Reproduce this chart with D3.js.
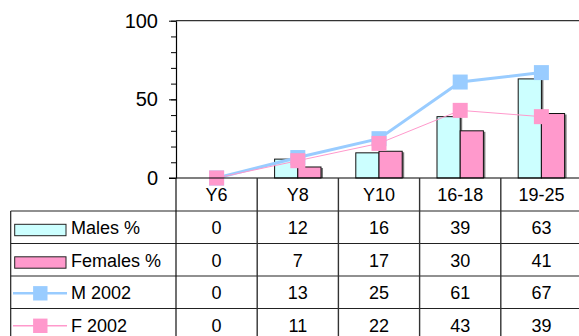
<!DOCTYPE html>
<html>
<head>
<meta charset="utf-8">
<script src="https://cdn.jsdelivr.net/npm/d3@7"></script>
<style>
  html, body { margin: 0; padding: 0; background: #fff; }
  svg { display: block; font-family: "Liberation Sans", Arial, sans-serif; }
</style>
</head>
<body>
<svg id="chart" width="579" height="336"></svg>
<script>
// Age groups and survey percentages
const categories = ["Y6", "Y8", "Y10", "16-18", "19-25"];
const malesPct   = [0, 12, 16, 39, 63];
const femalesPct = [0, 7, 17, 30, 41];
const m2002      = [0, 13, 25, 61, 67];
const f2002      = [0, 11, 22, 43, 39];
const yMajorTicks = [0, 50, 100];
const yMinorTicks = [0, 10, 20, 30, 40, 50, 60, 70, 80, 90, 100];

const seriesRows = [
  { name: "Males %",   values: malesPct,   kind: "bar",  fill: "#CCFFFF" },
  { name: "Females %", values: femalesPct, kind: "bar",  fill: "#FF99CC" },
  { name: "M 2002",    values: m2002,      kind: "line", color: "#99CCFF", width: 3 },
  { name: "F 2002",    values: f2002,      kind: "line", color: "#FF99CC", width: 1 }
];

const svg = d3.select("#chart");

const plotLeft = 176, plotRight = 582, plotTop = 20.7, plotBottom = 178;
const tableLeft = 10.7, headerH = 33, rowH = 32.5;

const x = d3.scaleBand().domain(categories).range([plotLeft, plotRight]);
const bw = x.bandwidth();
const xInner = d3.scaleBand()
  .domain(["Males %", "Females %"])
  .range([0.75 * bw / 3.5, 2.75 * bw / 3.5]);
const y = d3.scaleLinear().domain([0, 100]).range([plotBottom, plotTop]);

// plot frame top edge
svg.append("line")
  .attr("x1", plotLeft).attr("x2", plotRight)
  .attr("y1", plotTop).attr("y2", plotTop)
  .attr("stroke", "#333").attr("stroke-width", 1.2);

// bars with a soft grey drop shadow
const barRows = seriesRows.filter(s => s.kind === "bar");
barRows.forEach(s => {
  const g = svg.append("g");
  const data = categories.map((c, i) => ({ c, v: s.values[i] })).filter(d => d.v > 0);
  g.selectAll("rect.shadow").data(data).join("rect")
    .attr("class", "shadow")
    .attr("x", d => x(d.c) + xInner(s.name) + 2)
    .attr("y", d => y(d.v) + 1)
    .attr("width", xInner.bandwidth())
    .attr("height", d => y(0) - y(d.v) - 1)
    .attr("fill", "#7a7a7a");
  g.selectAll("rect.bar").data(data).join("rect")
    .attr("class", "bar")
    .attr("x", d => x(d.c) + xInner(s.name))
    .attr("y", d => y(d.v))
    .attr("width", xInner.bandwidth())
    .attr("height", d => y(0) - y(d.v))
    .attr("fill", s.fill)
    .attr("stroke", "#111").attr("stroke-width", 1);
});

// lines with square markers
const lineRows = seriesRows.filter(s => s.kind === "line");
const markerSize = 15;
lineRows.forEach(s => {
  const pts = categories.map((c, i) => [x(c) + bw / 2, y(s.values[i])]);
  svg.append("path")
    .attr("d", d3.line()(pts))
    .attr("fill", "none")
    .attr("stroke", s.color)
    .attr("stroke-width", s.width);
  svg.append("g").selectAll("rect").data(pts).join("rect")
    .attr("x", d => d[0] - markerSize / 2)
    .attr("y", d => d[1] - markerSize / 2)
    .attr("width", markerSize).attr("height", markerSize)
    .attr("fill", s.color);
});

// y axis: minor ticks, then major ticks with labels
svg.append("g")
  .attr("transform", `translate(${plotLeft},0)`)
  .call(d3.axisLeft(y).tickValues(yMinorTicks).tickSize(5).tickFormat(""))
  .call(g => g.select(".domain").remove())
  .call(g => g.selectAll("line").attr("stroke", "#000"));
svg.append("g")
  .attr("transform", `translate(${plotLeft},0)`)
  .call(d3.axisLeft(y).tickValues(yMajorTicks).tickSize(7).tickPadding(11).tickSizeOuter(0))
  .call(g => g.select(".domain").attr("stroke", "#000").attr("stroke-width", 1.2))
  .call(g => g.selectAll("line").attr("stroke", "#000"))
  .call(g => g.selectAll("text")
    .attr("font-size", 20)
    .attr("font-family", "Liberation Sans, Arial, sans-serif")
    .attr("fill", "#000"));

// data table below the plot
const table = svg.append("g");
const rowTop = i => plotBottom + headerH + i * rowH;
const tableBottom = rowTop(seriesRows.length);

// horizontal rules
table.append("line")
  .attr("x1", plotLeft - 7).attr("x2", plotRight)
  .attr("y1", plotBottom).attr("y2", plotBottom)
  .attr("stroke", "#000").attr("stroke-width", 1.2);
d3.range(seriesRows.length + 1).forEach(i => {
  table.append("line")
    .attr("x1", tableLeft).attr("x2", plotRight)
    .attr("y1", rowTop(i)).attr("y2", rowTop(i))
    .attr("stroke", "#222").attr("stroke-width", 1.2);
});

// vertical rules
table.append("line")
  .attr("x1", tableLeft).attr("x2", tableLeft)
  .attr("y1", rowTop(0)).attr("y2", tableBottom)
  .attr("stroke", "#222").attr("stroke-width", 1.2);
table.append("line")
  .attr("x1", plotLeft).attr("x2", plotLeft)
  .attr("y1", plotBottom).attr("y2", tableBottom)
  .attr("stroke", "#111").attr("stroke-width", 1.2);
categories.slice(1).forEach(c => {
  table.append("line")
    .attr("x1", x(c)).attr("x2", x(c))
    .attr("y1", plotBottom).attr("y2", tableBottom)
    .attr("stroke", "#333").attr("stroke-width", 1.4);
});

const fontSize = 18;
// header row of categories
table.selectAll("text.cat").data(categories).join("text")
  .attr("class", "cat")
  .attr("x", c => x(c) + bw / 2)
  .attr("y", plotBottom + 22.7)
  .attr("text-anchor", "middle")
  .attr("font-size", fontSize)
  .text(c => c);

// series rows: legend key, name, values
seriesRows.forEach((s, i) => {
  const top = rowTop(i);
  if (s.kind === "bar") {
    table.append("rect")
      .attr("x", 14.7).attr("y", top + 13.3)
      .attr("width", 51.3).attr("height", 11.4)
      .attr("fill", s.fill)
      .attr("stroke", "#222").attr("stroke-width", 1);
  } else {
    const cy = top + 17.3;
    table.append("line")
      .attr("x1", 13).attr("x2", 67)
      .attr("y1", cy).attr("y2", cy)
      .attr("stroke", s.color).attr("stroke-width", s.width === 1 ? 1.5 : 2.5);
    table.append("rect")
      .attr("x", 40.3 - 7.2).attr("y", cy - 7.2)
      .attr("width", 14.4).attr("height", 14.4)
      .attr("fill", s.color);
  }
  table.append("text")
    .attr("x", 71).attr("y", top + 23)
    .attr("font-size", fontSize)
    .text(s.name);
  table.selectAll(null).data(categories).join("text")
    .attr("x", c => x(c) + bw / 2)
    .attr("y", top + 23)
    .attr("text-anchor", "middle")
    .attr("font-size", fontSize)
    .text((c, j) => s.values[j]);
});
</script>
</body>
</html>
